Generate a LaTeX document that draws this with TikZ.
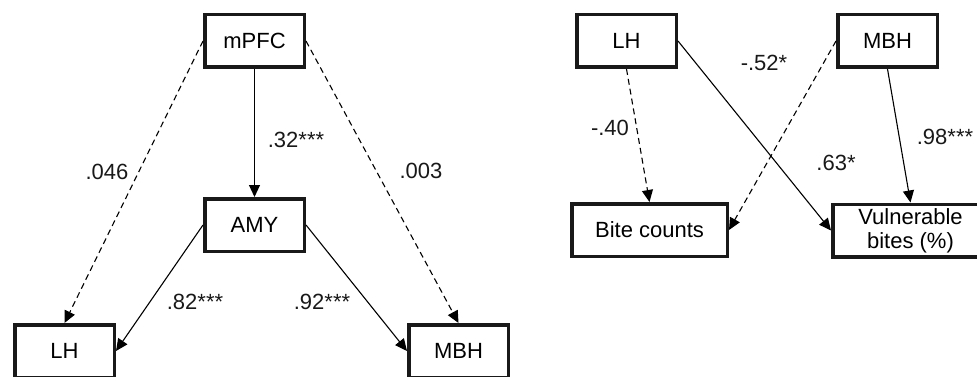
\documentclass[tikz,border=0pt]{standalone}
\usepackage{fontspec}
\setmainfont{Liberation Sans}
\usetikzlibrary{arrows.meta}
\begin{document}
\begin{tikzpicture}[x=1pt,y=-1pt,
  font=\fontsize{22}{24}\selectfont,
  varbox/.style={draw=black!90, line width=3.5pt, inner sep=0pt, align=center,
    minimum width=99.5pt, minimum height=52.5pt},
  widebox/.style={varbox, minimum width=155.5pt},
  path/.style={line width=1.1pt, -{Triangle[length=12pt,width=11pt]}},
  dpath/.style={path, dash pattern=on 6pt off 4pt},
  lbl/.style={inner sep=0pt, text=black!90}]
\useasboundingbox (0,0) rectangle (977,377);
% left diagram
\node[varbox] (mpfc) at (254.5,41) {mPFC};
\node[varbox] (amy) at (254.5,225) {AMY};
\node[varbox] (lhL) at (64.5,351) {LH};
\node[varbox] (mbhL) at (458.5,351) {MBH};
\draw[path] (mpfc.south) -- (amy.north);
\draw[dpath] (mpfc.west) -- (lhL.north);
\draw[dpath] (mpfc.east) -- (mbhL.north);
\draw[path] (amy.west) -- (lhL.east);
\draw[path] (amy.east) -- (mbhL.west);
\node[lbl] (l32) at (296,140) {.32***};
\node[lbl] (l046) at (107,172) {.046};
\node[lbl] (l003) at (421,171) {.003};
\node[lbl] (l82) at (195,302) {.82***};
\node[lbl] (l92) at (322,302) {.92***};
% right diagram
\node[varbox] (lhR) at (626.5,41) {LH};
\node[varbox] (mbhR) at (887.5,41) {MBH};
\node[widebox] (bite) at (649.5,230) {Bite counts};
\node[widebox] (vuln) at (910.5,230.5) {Vulnerable\\bites (\%)};
\draw[dpath] (lhR.south) -- (bite.north);
\draw[path] (lhR.east) -- (vuln.west);
\draw[dpath] (mbhR.west) -- (bite.east);
\draw[path] (mbhR.south) -- (vuln.north);
\node[lbl] (l40) at (610,128) {-.40};
\node[lbl] (l52) at (764,63) {-.52*};
\node[lbl] (l63) at (836,163) {.63*};
\node[lbl] (l98) at (945,137) {.98***};
\end{tikzpicture}
\end{document}
